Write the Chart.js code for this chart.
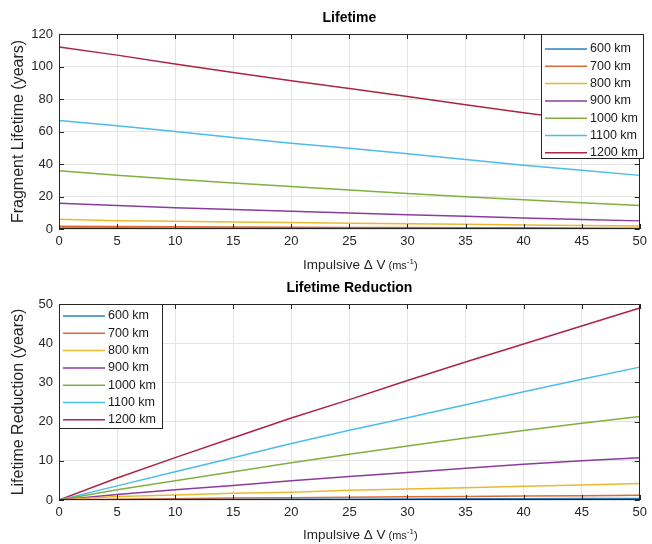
<!DOCTYPE html>
<html>
<head>
<meta charset="utf-8">
<script src="https://cdn.jsdelivr.net/npm/chart.js@4/dist/chart.umd.min.js"></script>
<style>
  body { margin: 0; background: #fff; }
  .box { position: absolute; left: 0; width: 652px; height: 272px; }
</style>
</head>
<body>
<div class="box" style="top:0"><canvas id="lifeChart" width="652" height="272"></canvas></div>
<div class="box" style="top:272px"><canvas id="redChart" width="652" height="272"></canvas></div>
<script>
// --- data ---
const deltaV = [0, 5, 10, 15, 20, 25, 30, 35, 40, 45, 50];
const altitudes = ["600 km", "700 km", "800 km", "900 km", "1000 km", "1100 km", "1200 km"];
const colors = ["#2a7fbf", "#dd6a30", "#ecb830", "#8a3c9c", "#80b040", "#4cbcea", "#ad2346"];

// fragment lifetime (years)
const life600 = [0.6, 0.55, 0.5, 0.45, 0.4, 0.38, 0.34, 0.3, 0.27, 0.23, 0.2];
const life700 = [1.7, 1.5, 1.35, 1.2, 1.1, 1.0, 0.9, 0.8, 0.7, 0.6, 0.5];
const life800 = [6.0, 5.1, 4.7, 4.3, 4.0, 3.5, 3.2, 2.9, 2.5, 2.2, 1.8];
const life900 = [15.8, 14.4, 13.1, 12.0, 10.9, 9.8, 8.8, 7.8, 6.8, 5.9, 5.0];
const life1000 = [35.8, 33.1, 30.6, 28.3, 26.1, 24.0, 21.9, 19.8, 18.0, 16.2, 14.5];
const life1100 = [66.8, 63.6, 60.0, 56.3, 52.8, 49.7, 46.3, 42.8, 39.3, 36.1, 33.0];
const life1200 = [112, 107, 101.5, 96.3, 91.2, 86.5, 81.6, 76.5, 71.5, 67.0, 63.0];

// lifetime reduction (years)
const red600 = [0, 0.05, 0.1, 0.15, 0.2, 0.22, 0.26, 0.3, 0.33, 0.37, 0.4];
const red700 = [0, 0.2, 0.35, 0.5, 0.6, 0.7, 0.8, 0.9, 1.0, 1.1, 1.2];
const red800 = [0, 0.9, 1.3, 1.7, 2.0, 2.5, 2.8, 3.1, 3.5, 3.8, 4.2];
const red900 = [0, 1.4, 2.6, 3.7, 4.9, 6.0, 7.0, 8.1, 9.1, 10.0, 10.8];
const red1000 = [0, 2.6, 4.9, 7.2, 9.5, 11.7, 13.8, 15.8, 17.7, 19.6, 21.3];
const red1100 = [0, 3.6, 7.2, 10.8, 14.4, 17.8, 21.0, 24.3, 27.6, 30.8, 33.9];
const red1200 = [0, 5.6, 10.8, 15.9, 20.9, 25.6, 30.5, 35.2, 39.8, 44.4, 49.0];

const lifeSeries = [life600, life700, life800, life900, life1000, life1100, life1200];
const redSeries = [red600, red700, red800, red900, red1000, red1100, red1200];

const FONT = "'Liberation Sans', Arial, sans-serif";
const INK = "#262626";

// box, inward ticks, titles and boxed legend (matlab look)
const frame = {
  id: "frame",
  afterDatasetsDraw(chart, args, opts) {
    const { ctx, chartArea: a, scales: { x, y } } = chart;
    ctx.save();
    ctx.strokeStyle = INK;
    ctx.lineWidth = 1;
    ctx.beginPath();
    x.ticks.forEach(t => {
      const px = Math.round(x.getPixelForValue(t.value)) + 0.5;
      ctx.moveTo(px, a.bottom); ctx.lineTo(px, a.bottom - 5);
      ctx.moveTo(px, a.top); ctx.lineTo(px, a.top + 5);
    });
    y.ticks.forEach(t => {
      const py = Math.round(y.getPixelForValue(t.value)) + 0.5;
      ctx.moveTo(a.left, py); ctx.lineTo(a.left + 5, py);
      ctx.moveTo(a.right, py); ctx.lineTo(a.right - 5, py);
    });
    ctx.stroke();
    ctx.strokeRect(Math.round(a.left) + 0.5, Math.round(a.top) + 0.5, Math.round(a.width) - 1, Math.round(a.height) - 1);

    // chart title
    ctx.fillStyle = "#000";
    ctx.font = "bold 14px " + FONT;
    ctx.textAlign = "center";
    ctx.textBaseline = "middle";
    ctx.fillText(opts.title, (a.left + a.right) / 2, a.top - 16);

    // x axis title, unit smaller with raised exponent
    ctx.fillStyle = INK;
    ctx.textAlign = "left";
    ctx.textBaseline = "alphabetic";
    const ty = a.bottom + opts.xTitleOffset;
    let cx = 303;
    ctx.font = "13.5px " + FONT;
    ctx.fillText("Impulsive \u0394 V", cx, ty);
    cx += ctx.measureText("Impulsive \u0394 V").width + 3;
    ctx.font = "11px " + FONT;
    ctx.fillText("(ms", cx, ty);
    cx += ctx.measureText("(ms").width;
    ctx.font = "8px " + FONT;
    ctx.fillText("-1", cx, ty - 5);
    cx += ctx.measureText("-1").width;
    ctx.font = "11px " + FONT;
    ctx.fillText(")", cx, ty);

    // legend
    const L = opts.legend;
    ctx.fillStyle = "#fff";
    ctx.fillRect(L.x, L.y, L.w, L.h);
    ctx.strokeStyle = INK;
    ctx.lineWidth = 1;
    ctx.strokeRect(L.x + 0.5, L.y + 0.5, L.w - 1, L.h - 1);
    ctx.font = "12.5px " + FONT;
    ctx.textBaseline = "middle";
    chart.data.datasets.forEach((ds, i) => {
      const ry = L.y + L.first + i * 17.3;
      ctx.strokeStyle = ds.borderColor;
      ctx.lineWidth = 1.5;
      ctx.beginPath();
      ctx.moveTo(L.x + 4, ry); ctx.lineTo(L.x + 46, ry);
      ctx.stroke();
      ctx.fillStyle = "#1a1a1a";
      ctx.fillText(ds.label, L.x + 49, ry);
    });
    ctx.restore();
  }
};

function makeChart(id, series, yMax, yStep, yTitle, title, legend, xHeight, top, xTitleOffset) {
  const ctx = document.getElementById(id).getContext("2d");
  return new Chart(ctx, {
    type: "line",
    data: {
      datasets: altitudes.map((name, i) => ({
        label: name,
        data: deltaV.map((v, k) => ({ x: v, y: series[i][k] })),
        borderColor: colors[i],
        borderWidth: 1.5,
        pointRadius: 0,
        fill: false,
        tension: 0
      }))
    },
    options: {
      responsive: false,
      animation: false,
      layout: { padding: { top: top, left: 0, right: 9, bottom: 0 } },
      plugins: {
        legend: { display: false },
        tooltip: { enabled: false },
        frame: { title: title, legend: legend, xTitleOffset: xTitleOffset }
      },
      scales: {
        x: {
          type: "linear", min: 0, max: 50,
          ticks: { stepSize: 5, color: INK, font: { family: FONT, size: 13 }, padding: 5, maxRotation: 0 },
          grid: { color: "#e4e4e4", drawTicks: false },
          border: { display: false },
          afterFit: s => { s.height = xHeight; }
        },
        y: {
          min: 0, max: yMax,
          ticks: { stepSize: yStep, color: INK, font: { family: FONT, size: 13 }, padding: 6 },
          grid: { color: "#e4e4e4", drawTicks: false },
          border: { display: false },
          title: { display: true, text: yTitle, color: INK, font: { family: FONT, size: 16 }, padding: { top: 9, bottom: 0 } },
          afterFit: s => { s.width = 59; }
        }
      }
    },
    plugins: [frame]
  });
}

makeChart("lifeChart", lifeSeries, 120, 20, "Fragment Lifetime (years)", "Lifetime",
  { x: 541, y: 34, w: 103, h: 125, first: 15 }, 43, 34, 40);
makeChart("redChart", redSeries, 50, 10, "Lifetime Reduction (years)", "Lifetime Reduction",
  { x: 59, y: 32, w: 104, h: 125, first: 12 }, 44, 32, 39);
</script>
</body>
</html>
